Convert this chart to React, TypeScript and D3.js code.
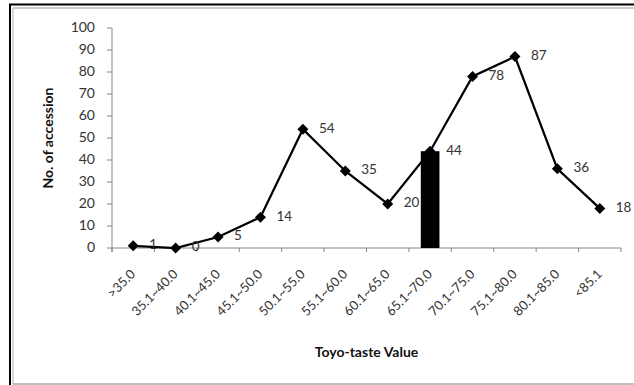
import React from "react";
import * as d3 from "d3";

const categories = [">35.0", "35.1~40.0", "40.1~45.0", "45.1~50.0", "50.1~55.0", "55.1~60.0", "60.1~65.0", "65.1~70.0", "70.1~75.0", "75.1~80.0", "80.1~85.0", "<85.1"];
const counts = [1, 0, 5, 14, 54, 35, 20, 44, 78, 87, 36, 18];
const barCategory = "65.1~70.0";
const barValue = 44;
const yTicks = [0, 10, 20, 30, 40, 50, 60, 70, 80, 90, 100];
const xTitle = "Toyo-taste Value";
const yTitle = "No. of accession";

const W = 634;
const H = 385;
const left = 112;
const right = 621;
const top = 28;
const bottom = 248;
const FONT = "Lato, 'Open Sans', sans-serif";

export default function App() {
  const x = d3.scaleBand<string>().domain(categories).range([left, right]).paddingInner(0).paddingOuter(0);
  const y = d3.scaleLinear().domain([0, 100]).range([bottom, top]);
  const cx = (c: string) => (x(c) as number) + x.bandwidth() / 2;
  const pts: [number, number][] = categories.map((c, i) => [cx(c), y(counts[i])]);
  const line = d3.line()(pts) as string;
  const diamond = (px: number, py: number) => {
    const r = 5.5;
    return `M${px},${py - r}L${px + r},${py}L${px},${py + r}L${px - r},${py}Z`;
  };
  const barW = x.bandwidth() * 0.44;
  const boundaries = categories.map((c) => x(c) as number).concat([right]);

  return (
    <svg width={W} height={H} style={{ position: "absolute", left: 0, top: 0, background: "#fff" }} fontFamily={FONT}>
      <rect x={0} y={0} width={W} height={H} fill="#fff" />
      {/* frame */}
      <line x1={9} x2={W} y1={4.5} y2={4.5} stroke="#000" strokeWidth={2} />
      <line x1={10} x2={10} y1={4} y2={H} stroke="#000" strokeWidth={2} />
      <line x1={13} x2={W} y1={8} y2={8} stroke="#bbb" strokeWidth={1.5} />
      <line x1={13} x2={13} y1={8} y2={384} stroke="#ccc" strokeWidth={1.5} />
      <line x1={13} x2={W} y1={384} y2={384} stroke="#aaa" strokeWidth={1.5} />

      {/* y axis */}
      <line x1={left} x2={left} y1={top} y2={bottom + 4} stroke="#868686" strokeWidth={1} />
      {yTicks.map((t) => (
        <g key={t}>
          <line x1={left - 5} x2={left} y1={y(t)} y2={y(t)} stroke="#868686" />
          <text x={95} y={y(t)} textAnchor="end" dominantBaseline="middle" fontSize={14} fill="#333">
            {t}
          </text>
        </g>
      ))}
      {/* x axis */}
      <line x1={left} x2={right} y1={bottom} y2={bottom} stroke="#868686" strokeWidth={1} />
      {boundaries.map((b, i) => (
        <line key={i} x1={b} x2={b} y1={bottom} y2={bottom + 4} stroke="#868686" />
      ))}
      {categories.map((c) => (
        <text
          key={c}
          transform={`translate(${cx(c) + 3},${bottom + 27}) rotate(-45)`}
          textAnchor="end"
          fontSize={13}
          fill="#333"
        >
          {c}
        </text>
      ))}

      {/* series */}
      <path d={line} fill="none" stroke="#000" strokeWidth={2.25} strokeLinejoin="miter" />
      {pts.map(([px, py], i) => (
        <path key={i} d={diamond(px, py)} fill="#000" />
      ))}
      {pts.map(([px, py], i) => (
        <text key={"l" + i} x={px + 16} y={py} dominantBaseline="middle" fontSize={13.5} fill="#333">
          {counts[i]}
        </text>
      ))}
      <rect x={cx(barCategory) - barW / 2} y={y(barValue)} width={barW} height={bottom - y(barValue)} fill="#000" />

      {/* titles */}
      <text x={(left + right) / 2} y={357} textAnchor="middle" fontSize={14} fontWeight="bold" fill="#111">
        {xTitle}
      </text>
      <text transform={`translate(53,${(top + bottom) / 2}) rotate(-90)`} textAnchor="middle" fontSize={14} fontWeight="bold" fill="#111">
        {yTitle}
      </text>
    </svg>
  );
}
